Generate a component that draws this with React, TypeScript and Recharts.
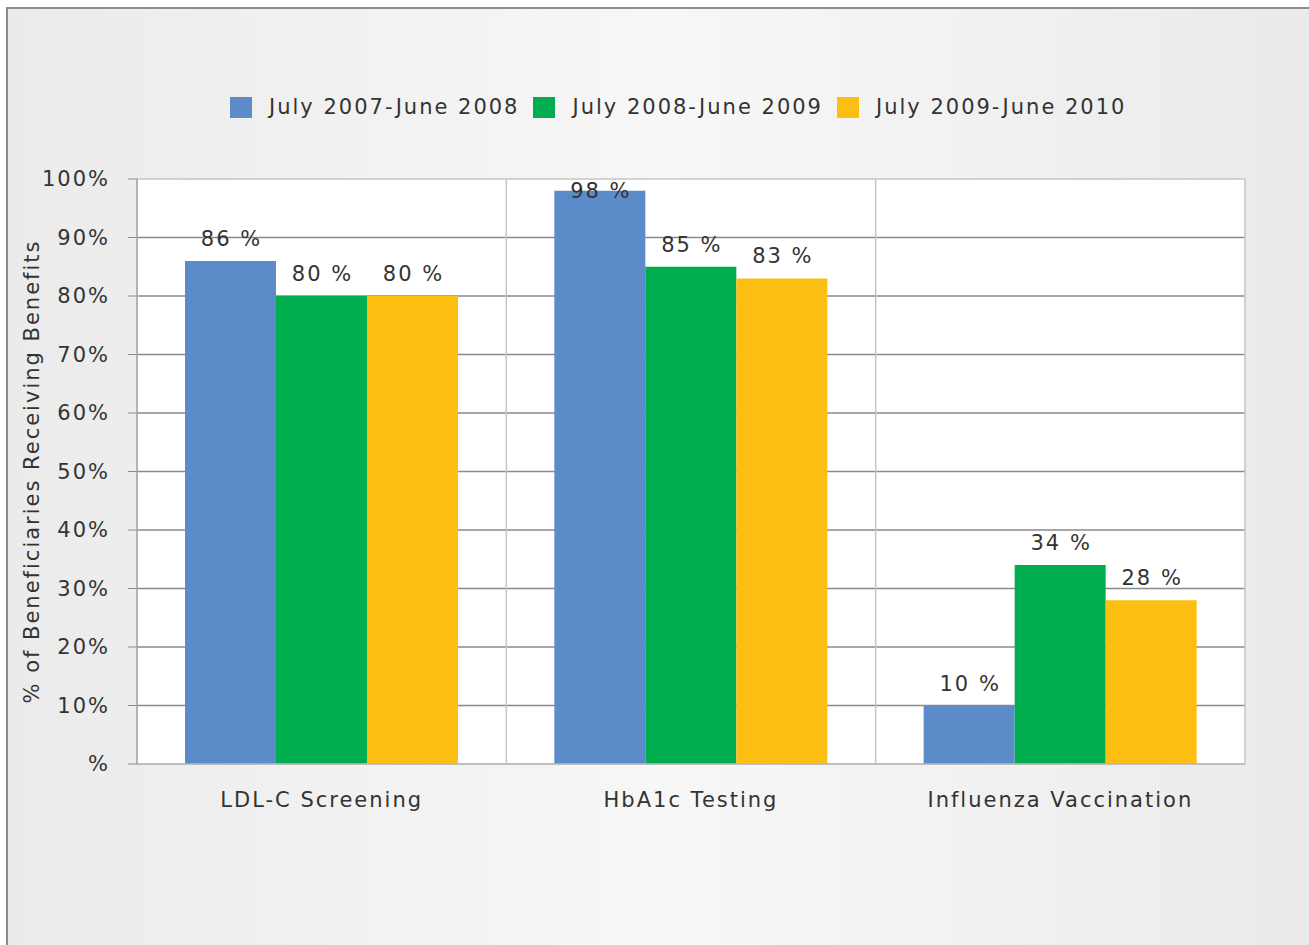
import { BarChart, Bar, XAxis, YAxis, CartesianGrid, LabelList } from 'recharts';

// measures
const categories = ['LDL-C Screening', 'HbA1c Testing', 'Influenza Vaccination'];

// one array per reporting period, in category order (percent)
const period2007 = [86, 98, 10];
const period2008 = [80, 85, 34];
const period2009 = [80, 83, 28];

const seriesNames = ['July 2007-June 2008', 'July 2008-June 2009', 'July 2009-June 2010'];
const seriesColors = ['#5b8bc9', '#00ae4f', '#fdbe12'];

const yTicks = [0, 10, 20, 30, 40, 50, 60, 70, 80, 90, 100];
const yTitle = '% of Beneficiaries Receiving Benefits';

const W = 1309;
const H = 945;
const PLOT_LEFT = 137;
const PLOT_TOP = 179;
const PLOT_RIGHT = 1245;
const PLOT_BOTTOM = 764;
const Y_AXIS_W = 100;
const X_AXIS_H = 40;
const FONT = 21;
const SPACING = 2;
const TEXT = '#333';

const data = categories.map((name, i) => ({
  name,
  p2007: period2007[i],
  p2008: period2008[i],
  p2009: period2009[i],
}));
const keys = ['p2007', 'p2008', 'p2009'];

// inner gridlines dark, frame and category dividers light
const innerGrid = yTicks.filter((t) => t > 0 && t < 100);
const frameY = [yTicks[0], yTicks[yTicks.length - 1]];
const dividers = [...categories.map((_, i) => i), categories.length];

const ValueLabel = (props: any) => {
  const { x, y, width, value } = props;
  const ty = Math.max(Number(y) - 15, PLOT_TOP + 19);
  return (
    <text x={Number(x) + Number(width) / 2 + SPACING / 2} y={ty} textAnchor="middle" fontSize={FONT} fill={TEXT}>
      {`${value} %`}
    </text>
  );
};

const LegendRow = () => (
  <div
    style={{
      position: 'absolute',
      left: 230,
      top: 97,
      display: 'flex',
      alignItems: 'center',
      fontSize: FONT,
      color: TEXT,
      whiteSpace: 'nowrap',
    }}
  >
    {seriesNames.map((s, i) => (
      <div key={s} style={{ display: 'flex', alignItems: 'center', marginRight: 14 }}>
        <span style={{ width: 22, height: 21, background: seriesColors[i], marginRight: 17, display: 'inline-block' }} />
        <span style={{ lineHeight: '21px' }}>{s}</span>
      </div>
    ))}
  </div>
);

export default function App() {
  return (
    <div
      style={{
        position: 'absolute',
        left: 0,
        top: 0,
        width: W,
        height: H,
        overflow: 'hidden',
        background: '#fff',
        fontFamily: '"DejaVu Sans", sans-serif',
        letterSpacing: `${SPACING}px`,
      }}
    >
      <div
        style={{
          position: 'absolute',
          left: 6,
          top: 7,
          width: W,
          height: H,
          borderLeft: '2px solid #8c8c8c',
          borderTop: '2px solid #8c8c8c',
          background: 'linear-gradient(to right, #ebebeb 0%, #f1f1f1 25%, #f7f7f7 50%, #f1f1f1 75%, #eaeaea 100%)',
        }}
      />
      <LegendRow />
      <div style={{ position: 'absolute', left: 0, top: 0 }}>
        <BarChart
          width={W}
          height={H}
          data={data}
          barCategoryGap={48}
          barGap={0}
          margin={{
            top: PLOT_TOP,
            right: W - PLOT_RIGHT,
            bottom: H - PLOT_BOTTOM - X_AXIS_H,
            left: PLOT_LEFT - Y_AXIS_W,
          }}
        >
          <CartesianGrid fill="#fff" vertical={false} horizontalValues={innerGrid} stroke="#8a8a8a" strokeWidth={1.5} />
          <CartesianGrid
            horizontalValues={frameY}
            verticalCoordinatesGenerator={({ offset }: any) =>
              dividers.map((i) => offset.left + (offset.width * i) / categories.length)
            }
            stroke="#c4c4c4"
            strokeWidth={1.5}
          />
          <XAxis
            dataKey="name"
            height={X_AXIS_H}
            tickLine={false}
            axisLine={{ stroke: '#b8b8b8', strokeWidth: 1.5 }}
            tickMargin={22}
            tick={{ fontSize: FONT, fill: TEXT }}
            interval={0}
          />
          <YAxis
            width={Y_AXIS_W}
            domain={[0, 100]}
            ticks={yTicks}
            interval={0}
            tickFormatter={(v: number) => (v === 0 ? '%' : `${v}%`)}
            tickSize={9}
            tickMargin={18}
            tickLine={{ stroke: '#8a8a8a' }}
            axisLine={{ stroke: '#a8a8a8', strokeWidth: 1.5 }}
            tick={{ fontSize: FONT, fill: TEXT }}
            label={{ value: yTitle, angle: -90, position: 'center', dx: -55, fill: TEXT, fontSize: FONT }}
          />
          {keys.map((k, i) => (
            <Bar key={k} dataKey={k} name={seriesNames[i]} fill={seriesColors[i]} isAnimationActive={false}>
              <LabelList dataKey={k} content={ValueLabel} />
            </Bar>
          ))}
        </BarChart>
      </div>
    </div>
  );
}
